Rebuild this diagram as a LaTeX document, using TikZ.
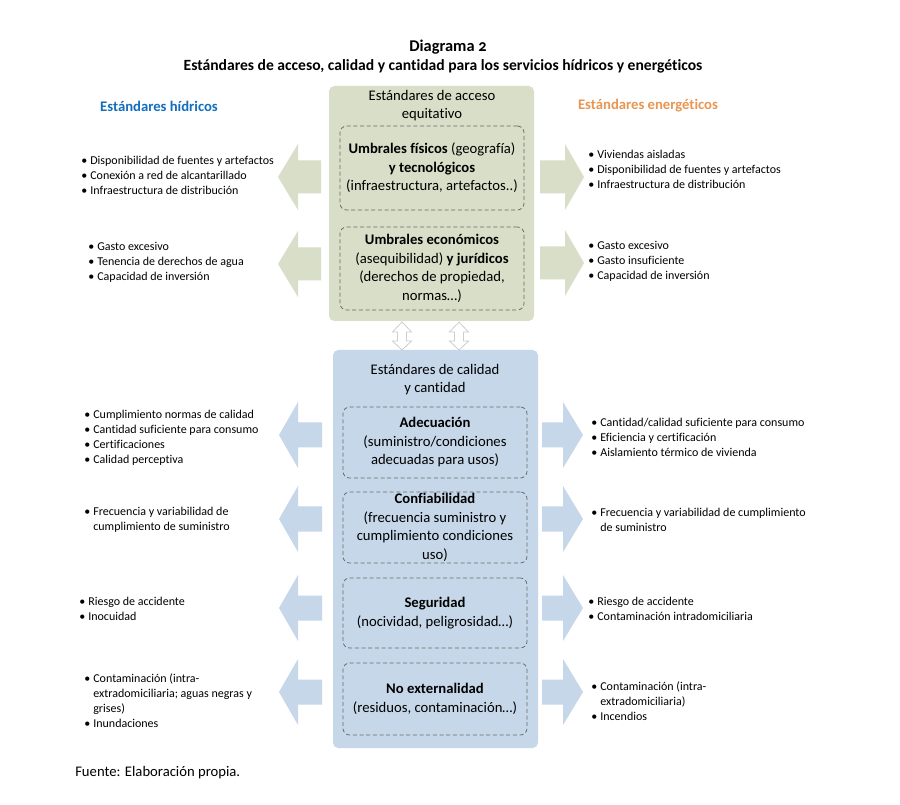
\documentclass[tikz,border=0pt]{standalone}
\usepackage{fontspec}
\setmainfont{Carlito}[Ligatures=NoCommon]
\usetikzlibrary{fit}
\definecolor{gfill}{RGB}{216,222,199}
\definecolor{bfill}{RGB}{198,215,233}
\definecolor{hblue}{RGB}{20,110,190}
\definecolor{horange}{RGB}{232,150,82}
\definecolor{dashc}{RGB}{105,105,105}
\definecolor{udc}{RGB}{205,205,205}
\newcommand{\bi}{\makebox[6.8pt][l]{\textbullet}}
\newcommand{\bc}{\hspace*{6.8pt}}
\newcommand{\blkarrow}[6]{\fill[#6] (#1,#2) -- (#3,{#2-33}) -- (#3,{#2-#5}) -- (#4,{#2-#5}) -- (#4,{#2+#5}) -- (#3,{#2+#5}) -- (#3,{#2+33}) -- cycle;}
\newcommand{\udarrow}[1]{\filldraw[fill=white,draw=udc,line width=0.6pt] (#1,322) -- ({#1+9.5},332) -- ({#1+4.5},332) -- ({#1+4.5},341) -- ({#1+9.5},341) -- (#1,350) -- ({#1-9.5},341) -- ({#1-4.5},341) -- ({#1-4.5},332) -- ({#1-9.5},332) -- cycle;}
\tikzset{
  outerbox/.style={inner sep=0pt, rounded corners=4pt},
  dbox/.style={inner sep=0pt, rounded corners=5pt, draw=dashc, dashed, dash pattern=on 3pt off 2pt, line width=0.6pt},
  boxtext/.style={align=center, inner sep=0pt, font=\fontsize{11}{13.9}\selectfont},
  listtext/.style={align=left, inner sep=0pt, anchor=west, font=\fontsize{9}{11.25}\selectfont},
  heading/.style={inner sep=0pt, font=\fontsize{11}{13}\selectfont\bfseries},
  titletext/.style={inner sep=0pt, font=\fontsize{11.7}{14}\selectfont\bfseries},
}
\begin{document}
\begin{tikzpicture}[x=0.75pt,y=-0.75pt]
\fill[white] (0,0) rectangle (900,805);
\useasboundingbox (0,0) rectangle (900,805);
% titles
\node[titletext, font=\fontsize{12.3}{14}\selectfont\bfseries] (t1) at (448,47) {Diagrama \addfontfeatures{Numbers=OldStyle}2};
\node[titletext] (t2) at (443,66) {Estándares de acceso, calidad y cantidad para los servicios hídricos y energéticos};
\node[heading, text=hblue] (hh) at (159,106) {Estándares hídricos};
\node[heading, text=horange] (he) at (648,106) {Estándares energéticos};
% outer boxes
\node[outerbox, fill=gfill, fit={(329,86) (534,321)}] (gbox) {};
\node[outerbox, fill=bfill, fit={(333,350) (538,748)}] (bbox) {};
% block arrows green
\blkarrow{278}{177}{298}{321}{16.5}{gfill}
\blkarrow{278}{264}{298}{321}{16.5}{gfill}
\blkarrow{584}{177}{565}{540}{16.5}{gfill}
\blkarrow{584}{263}{565}{540}{16.5}{gfill}
% block arrows blue
\foreach \cy in {435,519,608,692}{
  \blkarrow{279}{\cy}{298}{322}{12.5}{bfill}
  \blkarrow{583}{\cy}{563}{542}{12.5}{bfill}
}
% up-down arrows
\udarrow{402}
\udarrow{459}
% green box content
\node[boxtext] (ghead) at (432,105.5) {Estándares de acceso\\equitativo};
\node[dbox, fit={(340,126) (524,210)}] (g1) {};
\node[dbox, fit={(340,227) (524,310)}] (g2) {};
\node[boxtext] (g1t) at (g1.center) {\textbf{Umbrales físicos} (geografía)\\\textbf{y tecnológicos}\\(infraestructura, artefactos..)};
\node[boxtext] (g2t) at (g2.center) {\textbf{Umbrales económicos}\\(asequibilidad) \textbf{y jurídicos}\\(derechos de propiedad,\\normas…)};
% blue box content
\node[boxtext] (bhead) at (435,379.5) {Estándares de calidad\\y cantidad};
\node[dbox, fit={(343,407) (527,478)}] (b1) {};
\node[dbox, fit={(343,492) (527,563)}] (b2) {};
\node[dbox, fit={(343,578) (527,648)}] (b3) {};
\node[dbox, fit={(343,663) (527,735)}] (b4) {};
\node[boxtext] (b1t) at (b1.center) {\textbf{Adecuación}\\(suministro/condiciones\\adecuadas para usos)};
\node[boxtext] (b2t) at (b2.center) {\textbf{Confiabilidad}\\(frecuencia suministro y\\cumplimiento condiciones\\uso)};
\node[boxtext] (b3t) at (b3.center) {\textbf{Seguridad}\\(nocividad, peligrosidad…)};
\node[boxtext] (b4t) at (b4.center) {\textbf{No externalidad}\\(residuos, contaminación…)};
% left lists
\node[listtext] (l1) at (81,175) {\bi Disponibilidad de fuentes y artefactos\\\bi Conexión a red de alcantarillado\\\bi Infraestructura de distribución};
\node[listtext] (l2) at (88,262) {\bi Gasto excesivo\\\bi Tenencia de derechos de agua\\\bi Capacidad de inversión};
\node[listtext] (l3) at (84,437.5) {\bi Cumplimiento normas de calidad\\\bi Cantidad suficiente para consumo\\\bi Certificaciones\\\bi Calidad perceptiva};
\node[listtext] (l4) at (84,519.5) {\bi Frecuencia y variabilidad de\\\bc cumplimiento de suministro};
\node[listtext] (l5) at (79,608.5) {\bi Riesgo de accidente\\\bi Inocuidad};
\node[listtext] (l6) at (84,700.5) {\bi Contaminación (intra-\\\bc extradomiciliaria; aguas negras y\\\bc grises)\\\bi Inundaciones};
% right lists
\node[listtext] (r1) at (588,169) {\bi Viviendas aisladas\\\bi Disponibilidad de fuentes y artefactos\\\bi Infraestructura de distribución};
\node[listtext] (r2) at (588,261) {\bi Gasto excesivo\\\bi Gasto insuficiente\\\bi Capacidad de inversión};
\node[listtext] (r3) at (591,437) {\bi Cantidad/calidad suficiente para consumo\\\bi Eficiencia y certificación\\\bi Aislamiento térmico de vivienda};
\node[listtext] (r4) at (591,519.5) {\bi Frecuencia y variabilidad de cumplimiento\\\bc de suministro};
\node[listtext] (r5) at (588,608.5) {\bi Riesgo de accidente\\\bi Contaminación intradomiciliaria};
\node[listtext] (r6) at (591,701) {\bi Contaminación (intra-\\\bc extradomiciliaria)\\\bi Incendios};
% source
\node[inner sep=0pt, anchor=west, font=\fontsize{11}{13}\selectfont] (src) at (75,773) {Fuente: Elaboración propia.};
\end{tikzpicture}
\end{document}
